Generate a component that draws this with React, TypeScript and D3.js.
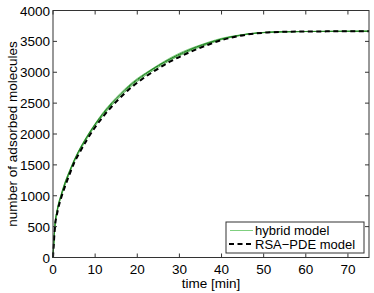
import React from 'react';
import * as d3 from 'd3';

// sample times [min]
const times = [0, 0.5, 1, 2, 3, 4, 5, 6, 8, 10, 12, 14, 16, 18, 20, 22, 25, 28, 31, 34, 37, 40, 43, 46, 50, 55, 60, 65, 70, 75];

// RSA-PDE model
const rsaPde = [0, 520, 720, 980, 1180, 1360, 1530, 1660, 1900, 2110, 2290, 2450, 2590, 2720, 2830, 2930, 3060, 3180, 3280, 3370, 3450, 3520, 3570, 3610, 3640, 3655, 3660, 3662, 3663, 3664];

// hybrid model runs
const hybrid1 = [0, 560, 780, 1040, 1250, 1420, 1580, 1720, 1960, 2170, 2360, 2520, 2660, 2790, 2900, 2990, 3120, 3240, 3340, 3420, 3490, 3550, 3590, 3620, 3645, 3657, 3660, 3662, 3663, 3664];
const hybrid2 = [0, 540, 750, 1010, 1220, 1390, 1560, 1700, 1940, 2150, 2330, 2490, 2630, 2760, 2870, 2970, 3100, 3215, 3310, 3400, 3470, 3535, 3580, 3615, 3642, 3656, 3660, 3661, 3663, 3664];
const hybrid3 = [0, 530, 740, 1000, 1200, 1380, 1545, 1680, 1920, 2130, 2310, 2470, 2610, 2740, 2850, 2950, 3080, 3200, 3300, 3385, 3460, 3528, 3575, 3612, 3641, 3655, 3659, 3661, 3662, 3663];
const hybrid4 = [0, 550, 770, 1030, 1240, 1410, 1570, 1710, 1950, 2160, 2345, 2505, 2645, 2775, 2885, 2980, 3110, 3225, 3325, 3410, 3480, 3540, 3585, 3618, 3644, 3656, 3660, 3662, 3663, 3664];

const hybridRuns = [hybrid1, hybrid2, hybrid3, hybrid4];
const hybridColors = ['#7fcf7f', '#2e9a2e', '#5cb85c', '#1f7f1f'];

const xTicks = [0, 10, 20, 30, 40, 50, 60, 70];
const yTicks = [0, 500, 1000, 1500, 2000, 2500, 3000, 3500, 4000];

const legendLabels = ['hybrid model', 'RSA\u2212PDE model'];

const width = 374;
const height = 293;
const marginLeft = 53;
const marginRight = 5;
const marginTop = 10.5;
const marginBottom = 35.5;
const font = '"Liberation Sans", Arial, sans-serif';

export default function App() {
  const x = d3.scaleLinear([0, 75], [marginLeft, width - marginRight]);
  const y = d3.scaleLinear([0, 4000], [height - marginBottom, marginTop]);

  const line = d3.line<number>()
    .x((_, i) => x(times[i]))
    .y(d => y(d))
    .curve(d3.curveMonotoneX);

  const x0 = x(0), x1 = x(75), y0 = y(0), y1 = y(4000);
  const tick = 4;
  const axisColor = '#333';

  // legend box
  const lx = 226, ly = 222, lw = 138, lh = 31;

  return (
    <svg width={width} height={height} style={{ position: 'absolute', left: 0, top: 0, background: '#fff' }}
      fontFamily={font}>
      <rect x={0} y={0} width={width} height={height} fill="#fff" />

      {hybridRuns.map((run, k) => (
        <path key={k} d={line(run) ?? ''} fill="none" stroke={hybridColors[k]} strokeWidth={1} />
      ))}
      <path d={line(rsaPde) ?? ''} fill="none" stroke="#000" strokeWidth={2} strokeDasharray="5,3.5" />

      {/* axes box */}
      <rect x={x0} y={y1} width={x1 - x0} height={y0 - y1} fill="none" stroke={axisColor} strokeWidth={1} />
      {xTicks.map(t => (
        <g key={'x' + t}>
          <line x1={x(t)} x2={x(t)} y1={y0} y2={y0 - tick} stroke={axisColor} />
          <line x1={x(t)} x2={x(t)} y1={y1} y2={y1 + tick} stroke={axisColor} />
          <text x={x(t)} y={y0 + 16} textAnchor="middle" fontSize={13.5} fill="#000">{t}</text>
        </g>
      ))}
      {yTicks.map(t => (
        <g key={'y' + t}>
          <line x1={x0} x2={x0 + tick} y1={y(t)} y2={y(t)} stroke={axisColor} />
          <line x1={x1} x2={x1 - tick} y1={y(t)} y2={y(t)} stroke={axisColor} />
          <text x={x0 - 3} y={y(t) + 5} textAnchor="end" fontSize={13.5} fill="#000">{t}</text>
        </g>
      ))}

      <text x={(x0 + x1) / 2} y={288} textAnchor="middle" fontSize={13.5} fill="#000">time [min]</text>
      <text transform={`translate(17,${(y0 + y1) / 2}) rotate(-90)`} textAnchor="middle" fontSize={13.5} fill="#000">
        number of adsorbed molecules
      </text>

      {/* legend */}
      <rect x={lx} y={ly} width={lw} height={lh} fill="#fff" stroke={axisColor} strokeWidth={1} />
      <line x1={lx + 4} x2={lx + 27} y1={ly + 8.5} y2={ly + 8.5} stroke={hybridColors[0]} strokeWidth={1} />
      <text x={lx + 29} y={ly + 12.5} fontSize={13} fill="#000">{legendLabels[0]}</text>
      <line x1={lx + 3} x2={lx + 28} y1={ly + 22} y2={ly + 22} stroke="#000" strokeWidth={2} strokeDasharray="5,3.5" />
      <text x={lx + 29} y={ly + 26.5} fontSize={13} fill="#000">{legendLabels[1]}</text>
    </svg>
  );
}
